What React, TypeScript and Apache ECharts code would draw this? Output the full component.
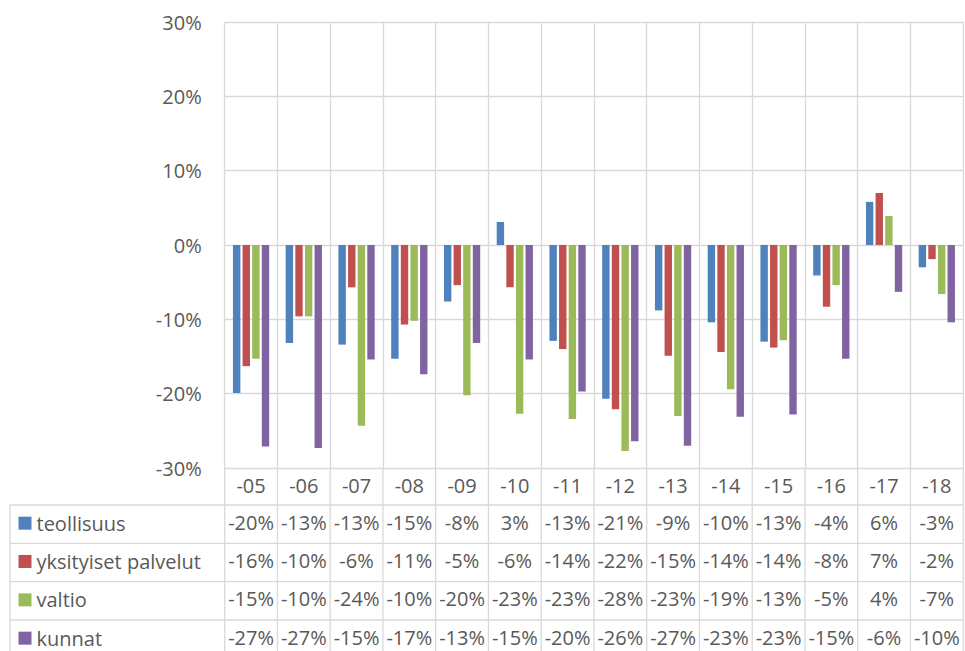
import React, { useEffect, useRef } from "react";
import * as echarts from "echarts";

const categories = ["-05", "-06", "-07", "-08", "-09", "-10", "-11", "-12", "-13", "-14", "-15", "-16", "-17", "-18"];
const seriesNames = ["teollisuus", "yksityiset palvelut", "valtio", "kunnat"];
const teollisuus = [-19.9, -13.2, -13.4, -15.3, -7.6, 3.1, -12.9, -20.7, -8.8, -10.4, -13.0, -4.1, 5.8, -3.0];
const yksityiset = [-16.3, -9.6, -5.7, -10.7, -5.4, -5.7, -14.0, -22.1, -14.9, -14.4, -13.8, -8.3, 7.0, -1.9];
const valtio = [-15.3, -9.6, -24.3, -10.2, -20.2, -22.7, -23.4, -27.7, -23.0, -19.4, -12.8, -5.4, 3.9, -6.6];
const kunnat = [-27.1, -27.3, -15.4, -17.4, -13.2, -15.4, -19.7, -26.4, -27.0, -23.1, -22.8, -15.3, -6.3, -10.4];
const yTicks = { min: -30, max: 30, interval: 10 };
const colors = ["#4F81BD", "#C0504D", "#9BBB59", "#8064A2"];

const FONT = "'Open Sans', 'Noto Sans', sans-serif";
const TXT = "#595959";
const LINE = "#D9D9D9";

export default function App() {
  const ref = useRef<HTMLDivElement>(null);
  useEffect(() => {
    if (!ref.current) return;
    const chart = echarts.init(ref.current, null, { renderer: "svg" });
    const H = 651;
    const gLeft = 224.7;
    const gRight = 963.2;
    const gTop = 22;
    const gBottom = 468;
    const colW = (gRight - gLeft) / categories.length;
    const rowTops = [505, 543.3, 581.7, 620];
    const rowH = 38.33;
    const textShift = 12; // half line height plus baseline correction
    const allSeries = [teollisuus, yksityiset, valtio, kunnat];
    const fmt = (v: number) => `${Math.round(v)}%`;

    const tableAxes = allSeries.map((arr, i) => ({
      type: "category",
      gridIndex: 0,
      position: "bottom",
      offset: rowTops[i] + rowH / 2 - textShift - gBottom,
      data: arr.map(fmt),
      axisLine: { show: false, onZero: false },
      axisTick: { show: false },
      splitLine: { show: false },
      axisLabel: {
        show: true,
        interval: 0,
        margin: 0,
        fontSize: 20,
        lineHeight: 20,
        color: TXT,
        fontFamily: FONT,
      },
    }));

    const legends = seriesNames.map((name, i) => ({
      orient: "vertical",
      left: 18.5,
      top: rowTops[i] + rowH / 2 - 10 - 1,
      padding: 0,
      itemWidth: 13,
      itemHeight: 13,
      icon: "rect",
      selectedMode: false,
      data: [name],
      textStyle: { fontSize: 20, lineHeight: 20, color: TXT, fontFamily: FONT },
    }));

    const graphics: any[] = [];
    rowTops.forEach((y) => {
      graphics.push({
        type: "line",
        shape: { x1: 10, y1: y, x2: gRight, y2: y },
        style: { stroke: LINE, lineWidth: 1.3 },
        silent: true,
      });
    });
    graphics.push({
      type: "line",
      shape: { x1: 10, y1: rowTops[0], x2: 10, y2: H },
      style: { stroke: LINE, lineWidth: 1.3 },
      silent: true,
    });
    for (let i = 0; i <= categories.length; i++) {
      const x = gLeft + i * colW;
      graphics.push({
        type: "line",
        shape: { x1: x, y1: gBottom, x2: x, y2: H },
        style: { stroke: LINE, lineWidth: 1.3 },
        silent: true,
      });
    }

    chart.setOption({
      animation: false,
      textStyle: { fontFamily: FONT },
      grid: {
        left: gLeft,
        top: gTop,
        width: gRight - gLeft,
        height: gBottom - gTop,
        containLabel: false,
      },
      legend: legends,
      xAxis: [
        {
          type: "category",
          gridIndex: 0,
          position: "bottom",
          data: categories,
          axisLine: { show: false, onZero: false },
          axisTick: { show: false },
          splitLine: { show: true, interval: 0, lineStyle: { color: LINE, width: 1.3 } },
          axisLabel: {
            interval: 0,
            margin: 487 - textShift - gBottom,
            fontSize: 20,
            lineHeight: 20,
            color: TXT,
            fontFamily: FONT,
          },
        },
        ...tableAxes,
      ],
      yAxis: {
        type: "value",
        min: yTicks.min,
        max: yTicks.max,
        interval: yTicks.interval,
        axisLine: { show: false },
        axisTick: { show: false },
        splitLine: { show: true, lineStyle: { color: LINE, width: 1.3 } },
        axisLabel: {
          formatter: "{value}%",
          margin: 23,
          fontSize: 20,
          color: TXT,
          fontFamily: FONT,
        },
      },
      series: allSeries.map((arr, i) => ({
        name: seriesNames[i],
        type: "bar",
        xAxisIndex: 0,
        data: arr,
        barWidth: 7.4,
        barGap: "30%",
        itemStyle: { color: colors[i] },
      })),
      graphic: graphics,
    });
    return () => chart.dispose();
  }, []);
  return (
    <div
      ref={ref}
      style={{ position: "absolute", left: 0, top: 0, width: 965, height: 651, background: "#fff" }}
    />
  );
}
